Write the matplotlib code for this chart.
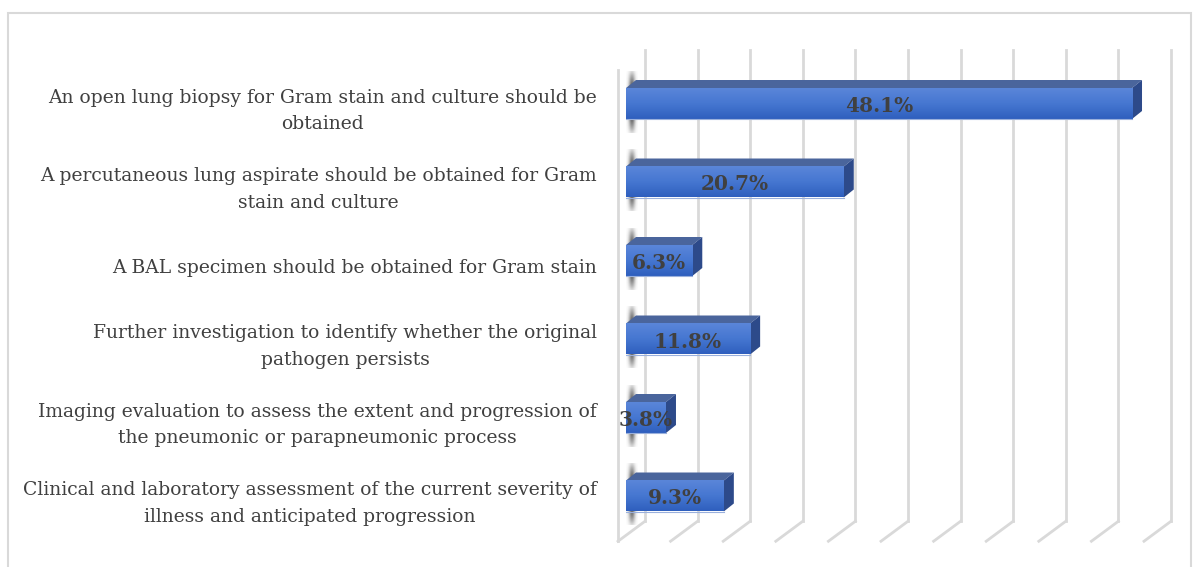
import numpy as np
import matplotlib
matplotlib.use('Agg')
import matplotlib.pyplot as plt
from matplotlib.patches import Polygon, Rectangle
from matplotlib.colors import LinearSegmentedColormap

categories = [
    'An open lung biopsy for Gram stain and culture should be\nobtained',
    'A percutaneous lung aspirate should be obtained for Gram\nstain and culture',
    'A BAL specimen should be obtained for Gram stain',
    'Further investigation to identify whether the original\npathogen persists',
    'Imaging evaluation to assess the extent and progression of\nthe pneumonic or parapneumonic process',
    'Clinical and laboratory assessment of the current severity of\nillness and anticipated progression',
]
values = [48.1, 20.7, 6.3, 11.8, 3.8, 9.3]
grid_ticks = list(range(0, 55, 5))

W, H = 1195, 567
fig = plt.figure(figsize=(W / 100, H / 100), dpi=100)

# plot area = front plane of the bars (pixel layout)
ax_left, ax_right = 626, 1152
ax_top, ax_bot = 64.25, 535.25
ax = fig.add_axes([ax_left / W, 1 - ax_bot / H, (ax_right - ax_left) / W, (ax_bot - ax_top) / H])
ax.set_xlim(0, 50)
ax.set_ylim(len(values) - 0.5, -0.5)
ax.axis('off')

# chart border
fig.patches.append(Rectangle((8 / W, -0.1), (1191 - 8) / W, 1.1 - 13 / H, transform=fig.transFigure,
                             fill=False, edgecolor='#d9d9d9', lw=1.5))

px_x = (ax_right - ax_left) / 50.0
px_y = (ax_bot - ax_top) / len(values)


def off(dx_px, dy_px):
    # pixel offset -> data offset (y axis inverted, up = negative)
    return dx_px / px_x, -dy_px / px_y


grid_c = '#d9d9d9'
y0, y1 = -0.5, len(values) - 0.5
bx, by = off(19, 14)   # back wall
fx, fy = off(-8, -6)   # front edge
for t in grid_ticks:
    ax.plot([t + bx, t + bx], [y0 + by, y1 + by], color=grid_c, lw=2, clip_on=False, zorder=1)
    ax.plot([t + bx, t + fx], [y1 + by, y1 + fy], color=grid_c, lw=2, clip_on=False, zorder=1)
# left wall front edge
ax.plot([fx, fx], [y0 + fy, y1 + fy], color=grid_c, lw=2, clip_on=False, zorder=1)

front_cmap = LinearSegmentedColormap.from_list('front', ['#5a86d9', '#4677d1', '#2f5fbe'])
grad = np.linspace(0, 1, 64).reshape(-1, 1)
ddx, ddy = off(10, 8)
h = 15.5 / px_y

# wall shadow blob
sy = np.linspace(-1, 1, 80).reshape(-1, 1)
sx = np.linspace(-1, 1, 30).reshape(1, -1)
alpha = np.exp(-(sx / 0.55) ** 2) * np.clip(1.2 - np.abs(sy) ** 2, 0, 1)
shadow = np.zeros((80, 30, 4))
shadow[..., :3] = 0.25
shadow[..., 3] = np.clip(alpha * 0.9, 0, 1)

for i, v in enumerate(values):
    top, bot = i - h, i + h
    ax.imshow(shadow, extent=[0, 12 / px_x, bot + 14 / px_y, top - 17 / px_y],
              aspect='auto', zorder=2, interpolation='bilinear')
    ax.imshow(grad, extent=[0, v, bot, top], cmap=front_cmap, aspect='auto', zorder=4,
              interpolation='bilinear')
    ax.plot([0, v], [bot, bot], color='#9ab0dc', lw=0.8, zorder=5)
    ax.add_patch(Polygon([(0, top), (v, top), (v + ddx, top + ddy), (ddx, top + ddy)],
                         closed=True, facecolor='#4a659c', edgecolor='none', zorder=3))
    ax.add_patch(Polygon([(v, top), (v, bot), (v + ddx, bot + ddy), (v + ddx, top + ddy)],
                         closed=True, facecolor='#2d4a8a', edgecolor='none', zorder=3))
    ax.text(v / 2, i + 2.5 / px_y, f'{v:.1f}%', ha='center', va='center', fontsize=14.5,
            fontweight='bold', family='DejaVu Serif', color='#404040', zorder=6)
    ax.annotate(categories[i], xy=(0, i), xytext=(-29 * 0.72, -7.5 * 0.72), textcoords='offset points',
                ha='right', va='center', multialignment='center', fontsize=13.5,
                family='DejaVu Serif', color='#404040', linespacing=1.6, annotation_clip=False)

ax.set_xlim(0, 50)
ax.set_ylim(len(values) - 0.5, -0.5)

plt.savefig('out.png', dpi=100)
